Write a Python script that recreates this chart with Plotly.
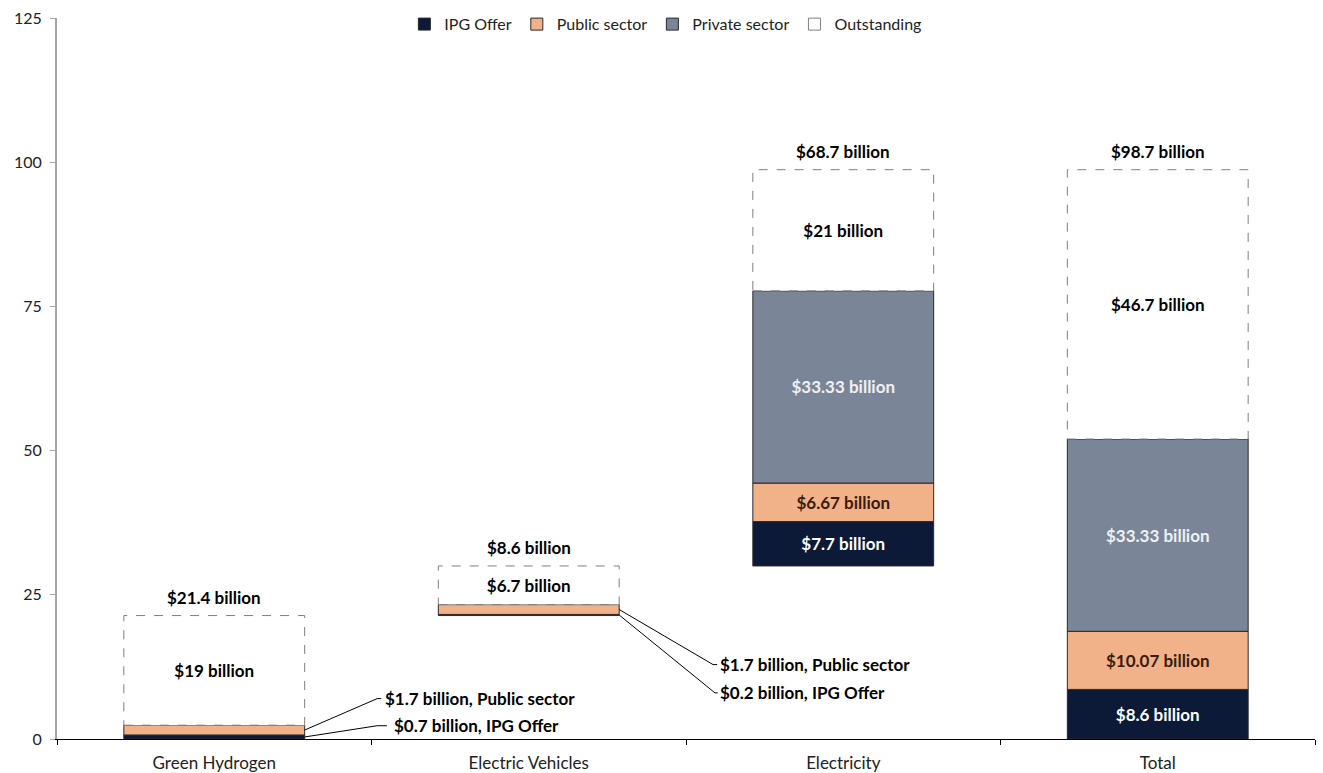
import plotly.graph_objects as go

# ---- data -------------------------------------------------------------
categories = ["Green Hydrogen", "Electric Vehicles", "Electricity", "Total"]
ipg_offer = [0.7, 0.2, 7.7, 8.6]
public_sector = [1.7, 1.7, 6.67, 10.07]
private_sector = [None, None, 33.33, 33.33]
outstanding = [19, 6.7, 21, 46.7]
y_ticks = [0, 25, 50, 75, 100, 125]

# ---- styling ----------------------------------------------------------
FONT = "Lato"
LABEL_SIZE = 17
BAR_WIDTH = 0.575
NAVY = "#0C1A38"
PEACH = "#F1B189"
SLATE = "#7A8698"
EDGE = "#2A2A2A"
DASH_GREY = "#7F7F7F"
CALLOUT_MIN = 3  # segments smaller than this get an external callout

series = [
    ("IPG Offer", ipg_offer, NAVY, "#FFFFFF"),
    ("Public sector", public_sector, PEACH, "#3A1C0E"),
    ("Private sector", private_sector, SLATE, "#EEF0F4"),
    ("Outstanding", outstanding, "#FFFFFF", "#000000"),
]

# Category totals and the level each column starts from (waterfall),
# the final "Total" column starts again from zero.
totals = [round(sum(v or 0 for v in col), 2)
          for col in zip(ipg_offer, public_sector, private_sector, outstanding)]
starts, level = [], 0.0
for cat, tot in zip(categories, totals):
    if cat == "Total":
        starts.append(0.0)
    else:
        starts.append(level)
        level = round(level + tot, 2)


def fmt(v):
    return f"${v:g} billion"


fig = go.Figure()

running = list(starts)
segments = {}  # (series name, category index) -> (base, value)
for name, values, color, txt_color in series:
    bases, texts = [], []
    for i, v in enumerate(values):
        bases.append(running[i])
        if v:
            segments[(name, i)] = (running[i], v)
            texts.append(fmt(v) if v >= CALLOUT_MIN else "")
            running[i] = round(running[i] + v, 2)
        else:
            texts.append("")
    is_out = name == "Outstanding"
    fig.add_trace(go.Bar(
        x=categories, y=values, base=bases, name=name,
        width=BAR_WIDTH,
        marker=dict(color=color,
                    line=dict(color=EDGE, width=0 if is_out else 1)),
        text=texts, textposition="inside", insidetextanchor="middle",
        textangle=0, constraintext="none",
        textfont=dict(family=FONT, size=LABEL_SIZE, color=txt_color,
                      weight="bold"),
        showlegend=not is_out, hoverinfo="skip",
    ))

# Legend entry for the outstanding (dashed) part
fig.add_trace(go.Bar(
    x=[None], y=[None], name="Outstanding",
    marker=dict(color="#FFFFFF", line=dict(color=DASH_GREY, width=1)),
    hoverinfo="skip",
))

half = BAR_WIDTH / 2
shapes, annotations = [], []

# Dashed outline around each outstanding segment + total label on top
for i in range(len(categories)):
    base, v = segments[("Outstanding", i)]
    shapes.append(dict(type="rect", xref="x", yref="y",
                       x0=i - half, x1=i + half, y0=base, y1=base + v,
                       line=dict(color=DASH_GREY, width=1, dash="dash"),
                       fillcolor="rgba(0,0,0,0)", layer="above"))
    annotations.append(dict(x=i, y=base + v, xref="x", yref="y",
                            text=f"<b>{fmt(totals[i])}</b>", showarrow=False,
                            yanchor="bottom", yshift=6,
                            font=dict(family=FONT, size=LABEL_SIZE,
                                      color="#000000")))

# Callouts for thin segments: (series, category index, elbow x0, elbow x1, text x, label y)
callouts = [
    ("Public sector", 0, 0.518, 0.531, 0.535, 7.0),
    ("IPG Offer", 0, 0.518, 0.549, 0.565, 2.3),
    ("Public sector", 1, 1.586, 1.599, 1.601, 12.9),
    ("IPG Offer", 1, 1.592, 1.601, 1.601, 8.0),
]
for name, i, ex0, ex1, tx, ly in callouts:
    base, v = segments[(name, i)]
    y_mid = base + v / 2
    shapes.append(dict(type="path", xref="x", yref="y",
                       path=f"M {i + half} {y_mid} L {ex0} {ly} L {ex1} {ly}",
                       line=dict(color="#000000", width=1)))
    annotations.append(dict(x=tx, y=ly, xref="x", yref="y",
                            text=f"<b>{fmt(v)}, {name}</b>", showarrow=False,
                            xanchor="left", yanchor="middle",
                            font=dict(family=FONT, size=LABEL_SIZE,
                                      color="#000000")))

fig.update_layout(
    width=1323, height=773,
    margin=dict(l=57, r=8, t=17, b=34),
    barmode="overlay",
    plot_bgcolor="#FFFFFF", paper_bgcolor="#FFFFFF",
    font=dict(family=FONT, size=16, color="#222222"),
    shapes=shapes, annotations=annotations,
    legend=dict(orientation="h", x=0.484, xanchor="center",
                y=0.99, yanchor="middle", itemwidth=30,
                font=dict(family=FONT, size=16, color="#222222"),
                bgcolor="rgba(0,0,0,0)", traceorder="normal"),
    xaxis=dict(type="category", range=[-0.5, len(categories) - 0.5],
               showline=True, linecolor="#000000", linewidth=1,
               ticks="outside", tickson="boundaries", ticklen=5,
               tickcolor="#000000", showgrid=False, zeroline=False,
               ticklabelstandoff=9, automargin=False,
               tickfont=dict(family=FONT, size=17, color="#222222")),
    yaxis=dict(range=[0, 125], tickvals=y_ticks,
               showline=True, linecolor="#A6A6A6", linewidth=2,
               ticks="outside", ticklen=5, tickcolor="#A6A6A6",
               showgrid=False, zeroline=False, ticklabelstandoff=5,
               automargin=False,
               tickfont=dict(family=FONT, size=16, color="#222222")),
)

fig.write_html("out.html")
